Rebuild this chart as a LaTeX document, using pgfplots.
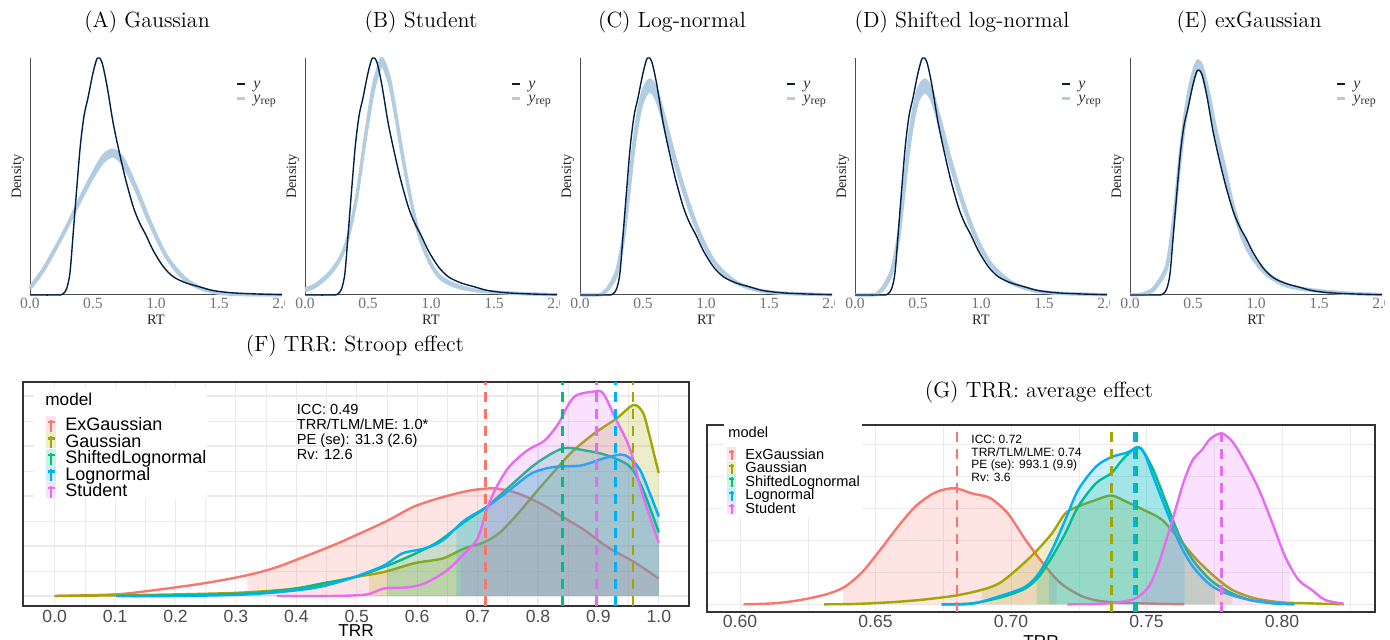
\documentclass[border=0pt]{standalone}
\usepackage{pgfplots}
\pgfplotsset{compat=1.18}
\usepackage{pgfplotstable}
\usepgfplotslibrary{fillbetween}
\usepackage{fontspec}
\newfontfamily\arial{Liberation Sans}
\newfontfamily\tnr{Liberation Serif}

\definecolor{cExg}{HTML}{F8766D}
\definecolor{cGau}{HTML}{A3A500}
\definecolor{cSln}{HTML}{00BF7D}
\definecolor{cLgn}{HTML}{00B0F6}
\definecolor{cStu}{HTML}{E76BF3}
\definecolor{yobs}{HTML}{011F4B}
\definecolor{yrep}{HTML}{B3CDE0}
\definecolor{gridc}{HTML}{EBEBEB}
\definecolor{framec}{HTML}{333333}
\definecolor{tickc}{HTML}{4D4D4D}

% ---------- posterior predictive checks: observed RT density ----------
\pgfplotstableread{
x y
0.00 0
0.22 0
0.26 0.01
0.29 0.06
0.317 0.22
0.343 0.62
0.37 1.05
0.40 1.50
0.43 1.80
0.46 1.97
0.50 2.22
0.535 2.37
0.57 2.33
0.61 2.10
0.66 1.72
0.71 1.42
0.76 1.15
0.82 0.88
0.87 0.72
0.92 0.60
0.98 0.44
1.06 0.28
1.14 0.18
1.24 0.12
1.35 0.08
1.45 0.045
1.60 0.022
1.80 0.01
2.00 0.003
}\yobs

% replicated densities: lower / upper envelope of the draws
\pgfplotstableread{
x lo hi
0.00 0.06 0.08
0.10 0.23 0.25
0.20 0.45 0.47
0.30 0.69 0.71
0.40 0.945 0.975
0.50 1.18 1.22
0.58 1.33 1.39
0.66 1.39 1.45
0.74 1.30 1.36
0.84 1.05 1.09
0.95 0.715 0.745
1.08 0.38 0.40
1.22 0.16 0.18
1.35 0.065 0.075
1.48 0.02 0.03
1.61 0.005 0.011
1.80 0.001 0.003
2.00 0.000 0.001
}\repA

\pgfplotstableread{
x lo hi
0.00 0.04 0.06
0.09 0.09 0.11
0.20 0.21 0.23
0.28 0.36 0.38
0.34 0.56 0.58
0.41 0.97 0.99
0.476 1.53 1.57
0.54 2.02 2.08
0.594 2.27 2.33
0.62 2.29 2.35
0.674 2.09 2.15
0.727 1.73 1.77
0.78 1.33 1.37
0.845 0.91 0.93
0.91 0.57 0.59
0.99 0.32 0.34
1.07 0.17 0.19
1.18 0.09 0.11
1.33 0.045 0.055
1.52 0.024 0.03
1.78 0.008 0.012
2.00 0.003 0.005
}\repB

\pgfplotstableread{
x lo hi
0.00 0.000 0.000
0.15 0.000 0.003
0.172 0.006 0.012
0.225 0.06 0.08
0.29 0.20 0.24
0.343 0.53 0.58
0.383 0.95 1.01
0.423 1.41 1.49
0.462 1.74 1.83
0.502 1.95 2.05
0.555 2.04 2.15
0.608 1.95 2.05
0.674 1.68 1.76
0.753 1.32 1.38
0.832 0.99 1.04
0.91 0.71 0.75
0.99 0.48 0.51
1.07 0.31 0.33
1.176 0.17 0.19
1.28 0.095 0.105
1.44 0.036 0.044
1.65 0.012 0.018
2.00 0.002 0.004
}\repC

\pgfplotstableread{
x lo hi
0.00 0.000 0.000
0.15 0.000 0.004
0.172 0.007 0.014
0.225 0.06 0.085
0.29 0.21 0.25
0.343 0.53 0.59
0.383 0.95 1.02
0.423 1.41 1.50
0.462 1.74 1.84
0.502 1.95 2.06
0.555 2.03 2.15
0.608 1.95 2.05
0.674 1.68 1.76
0.753 1.32 1.38
0.832 0.99 1.04
0.91 0.71 0.75
0.99 0.48 0.51
1.07 0.31 0.33
1.176 0.17 0.19
1.28 0.095 0.105
1.44 0.036 0.044
1.65 0.012 0.018
2.00 0.002 0.004
}\repD

\pgfplotstableread{
x lo hi
0.00 0.000 0.000
0.098 0.005 0.012
0.177 0.04 0.06
0.244 0.15 0.18
0.297 0.31 0.35
0.35 0.79 0.86
0.39 1.31 1.39
0.43 1.76 1.85
0.469 2.08 2.17
0.509 2.29 2.38
0.54 2.39 2.47
0.575 2.32 2.40
0.628 2.04 2.11
0.68 1.70 1.76
0.747 1.32 1.38
0.813 0.94 0.98
0.893 0.59 0.63
0.97 0.39 0.41
1.078 0.22 0.24
1.21 0.11 0.13
1.343 0.065 0.075
1.555 0.03 0.04
1.77 0.012 0.018
2.00 0.004 0.006
}\repE

% ---------- TRR posterior densities: Stroop effect ----------
\pgfplotstableread{
x y
0.000 0.00
0.102 0.033
0.154 0.10
0.205 0.18
0.250 0.26
0.309 0.39
0.361 0.55
0.412 0.78
0.464 1.03
0.516 1.31
0.553 1.52
0.597 1.80
0.649 2.00
0.693 2.12
0.730 2.15
0.767 2.05
0.804 1.85
0.841 1.58
0.878 1.31
0.915 0.98
0.959 0.68
1.000 0.35
}\fExg

\pgfplotstableread{
x y
0.000 0.00
0.100 0.013
0.205 0.033
0.294 0.06
0.353 0.10
0.398 0.15
0.442 0.23
0.494 0.37
0.545 0.48
0.597 0.66
0.642 0.75
0.678 0.95
0.712 1.08
0.738 1.28
0.767 1.65
0.797 2.08
0.826 2.48
0.856 2.88
0.893 3.25
0.930 3.55
0.958 3.82
0.974 3.66
0.985 3.19
0.993 2.79
1.000 2.46
}\fGau

\pgfplotstableread{
x y
0.102 0.00
0.205 0.013
0.316 0.05
0.390 0.13
0.442 0.25
0.494 0.37
0.545 0.58
0.590 0.81
0.634 1.08
0.678 1.48
0.715 1.78
0.752 2.18
0.797 2.65
0.841 2.95
0.878 2.91
0.915 2.81
0.952 2.59
0.974 2.12
1.000 1.27
}\fSln

\pgfplotstableread{
x y
0.102 0.00
0.205 0.00
0.316 0.03
0.390 0.10
0.442 0.19
0.494 0.37
0.545 0.61
0.575 0.85
0.612 0.95
0.642 1.11
0.678 1.51
0.715 1.78
0.752 2.11
0.789 2.45
0.826 2.58
0.871 2.61
0.908 2.75
0.937 2.83
0.952 2.76
0.969 2.52
0.985 2.06
1.000 1.59
}\fLgn

\pgfplotstableread{
x y
0.368 0.00
0.457 0.00
0.516 0.03
0.545 0.15
0.582 0.17
0.612 0.25
0.649 0.51
0.678 0.85
0.700 1.15
0.715 1.72
0.730 2.15
0.752 2.58
0.782 2.91
0.811 3.11
0.834 3.45
0.848 3.78
0.863 4.01
0.893 4.09
0.908 4.05
0.930 3.51
0.952 2.95
0.974 1.99
1.000 1.06
}\fStu

% ---------- TRR posterior densities: average effect ----------
\pgfplotstableread{
x y
0.6013 0
0.6127 0.16
0.6224 0.68
0.6322 1.61
0.6387 2.76
0.6452 5.1
0.6517 8.5
0.6582 12.1
0.6647 15.3
0.6712 17.3
0.676 18.0
0.680 18.1
0.6858 17.3
0.6923 16.6
0.6988 14.2
0.7053 10.1
0.7118 6.4
0.7183 3.3
0.7265 1.2
0.7346 0.42
0.7476 0.16
0.7639 0
}\gExg

\pgfplotstableread{
x y
0.631 0
0.642 0.05
0.655 0.31
0.6663 0.68
0.6793 1.35
0.689 2.24
0.6956 3.28
0.702 5.4
0.7086 8.0
0.7151 11.1
0.720 14.2
0.7248 15.3
0.7313 16.3
0.737 17.0
0.7427 16.0
0.7492 14.7
0.7557 13.2
0.7622 10.1
0.7687 6.9
0.7752 4.3
0.7817 2.24
0.7899 0.94
0.7996 0.31
0.8094 0.16
0.8227 0
}\gGau

\pgfplotstableread{
x y
0.6744 0
0.6858 0.16
0.6972 1.2
0.7053 2.5
0.7102 4.3
0.7151 7.4
0.720 11.1
0.7248 15.3
0.7313 18.9
0.737 20.5
0.7411 22.6
0.746 24.5
0.7484 24.1
0.7525 21.0
0.7573 15.8
0.7622 10.6
0.7671 6.9
0.7736 3.8
0.7801 2.0
0.7882 0.68
0.7964 0.16
0.8045 0
}\gSln

\pgfplotstableread{
x y
0.6744 0
0.6858 0.10
0.6972 1.46
0.7053 2.76
0.7102 4.8
0.7151 8.5
0.720 13.2
0.7248 17.9
0.7313 21.5
0.737 23.0
0.7427 23.7
0.7468 24.5
0.7492 23.6
0.7525 19.9
0.7573 14.7
0.7622 9.5
0.7671 5.9
0.7736 3.0
0.7801 1.61
0.7882 0.68
0.7964 0.26
0.8045 0
}\gLgn

\pgfplotstableread{
x y
0.7208 0
0.7313 0.05
0.7395 0.31
0.746 0.94
0.7508 2.76
0.7541 5.9
0.7573 10.1
0.7606 14.7
0.7639 19.4
0.7671 22.6
0.7704 24.1
0.7736 25.9
0.7777 26.7
0.7817 25.4
0.7866 22.0
0.7915 17.9
0.7964 12.7
0.8012 7.4
0.8061 3.8
0.811 2.24
0.8159 0.68
0.8227 0.1
}\gStu

\pgfplotsset{
  every fill between plot/.style={},
  ppc/.style={
    scale only axis, width=126pt, height=118.5pt,
    xmin=0, xmax=2, ymin=0,
    axis x line*=bottom, axis y line*=left,
    axis line style={-, draw=black!70, line width=0.5pt},
    xtick={0,0.5,1,1.5,2}, xticklabels={0.0,0.5,1.0,1.5,2.0},
    ytick=\empty, major tick length=0pt,
    xticklabel style={font=\tnr\fontsize{7.8}{9}\selectfont, text=black!55, inner sep=1.5pt},
    xlabel={RT}, ylabel={Density},
    label style={font=\tnr\fontsize{7.2}{8.5}\selectfont, text=black!85},
    xlabel style={at={(axis description cs:0.5,-0.1055)}, anchor=center},
    ylabel style={at={(axis description cs:-0.0476,0.5)}, anchor=center},
    clip=false,
  },
  trr/.style={
    scale only axis, grid=both,
    major grid style={draw=gridc, line width=0.55pt},
    minor grid style={draw=gridc, line width=0.3pt},
    major tick length=0pt, minor tick length=0pt,
    yticklabels={},
    axis line style={draw=framec, line width=0.55pt},
    xticklabel style={font=\arial\fontsize{8.8}{10}\selectfont, text=tickc},
    xlabel={TRR},
    xlabel style={font=\arial\fontsize{8.6}{10}\selectfont, anchor=center, text=black},
  },
  dens/.style={line width=1.2pt, smooth},
  mean/.style={line width=1.35pt, dash pattern=on 5pt off 3.5pt},
}

% legend of the predictive-check panels
\newcommand\ppclegend{%
  \draw[yobs, line width=1.1pt] (axis description cs:0.823,0.889) -- (axis description cs:0.855,0.889);
  \draw[yrep, line width=1.1pt] (axis description cs:0.823,0.829) -- (axis description cs:0.855,0.829);
  \node[anchor=base west, inner sep=0, text=black!80, font=\tnr\fontsize{8}{9}\selectfont]
    at (axis description cs:0.885,0.873) {\itshape y};
  \node[anchor=base west, inner sep=0, text=black!80, font=\tnr\fontsize{8}{9}\selectfont]
    at (axis description cs:0.885,0.813) {{\itshape y}\textsubscript{rep}};
}

% one predictive-check panel: #1 left edge, #2 top of density axis, #3 replicated draws
\newcommand\ppcpanel[3]{%
  \begin{scope}
    \clip ({#1-14pt},150pt) rectangle ({#1+127pt},320pt);
    \begin{axis}[ppc, ymax=#2, at={(#1,172.5pt)}]
      \addplot[name path=lo, draw=yrep, line width=1.5pt, smooth] table[x=x,y=lo] {#3};
      \addplot[name path=hi, draw=yrep, line width=1.5pt, smooth] table[x=x,y=hi] {#3};
      \addplot[fill=yrep, draw=none] fill between[of=lo and hi];
      \addplot[yobs, line width=0.7pt, smooth] table[x=x,y=y] {\yobs};
      \ppclegend
    \end{axis}
  \end{scope}}

% one TRR density: #1 table, #2 colour, #3 shaded interval, #4 path name, #5 baseline name
\newcommand\trrdens[5]{%
  \addplot[draw=none, name path=#4, smooth] table[x=x,y=y] {#1};
  \addplot[fill=#2, fill opacity=0.2, draw=none] fill between[of=#4 and #5, soft clip={domain=#3}];
  \addplot[dens, #2] table[x=x,y=y] {#1};
}

\begin{document}
\begin{tikzpicture}
\useasboundingbox (0,0) rectangle (695pt,320pt);

\ppcpanel{15pt}{2.37}{\repA}
\ppcpanel{152.5pt}{2.37}{\repB}
\ppcpanel{290pt}{2.37}{\repC}
\ppcpanel{427.5pt}{2.37}{\repD}
\ppcpanel{565pt}{2.50}{\repE}

% (F) Stroop effect
\begin{axis}[trr, width=333pt, height=112pt, at={(11.5pt,17pt)},
  xmin=-0.0525, xmax=1.05, ymin=-0.2, ymax=4.28,
  xtick={0,0.1,0.2,0.3,0.4,0.5,0.6,0.7,0.8,0.9,1.0},
  xticklabels={0.0,0.1,0.2,0.3,0.4,0.5,0.6,0.7,0.8,0.9,1.0},
  minor xtick={0.05,0.15,0.25,0.35,0.45,0.55,0.65,0.75,0.85,0.95},
  ytick={0,1,2,3,4}, minor ytick={0.5,1.5,2.5,3.5},
  xticklabel style={inner sep=2pt},
  xlabel style={at={(axis description cs:0.5,-0.1116)}},
]
  \addplot[draw=none, name path=baseF] coordinates {(-0.1,0) (1.1,0)};
  \trrdens{\fExg}{cExg}{0.319:1}{pfE}{baseF}
  \trrdens{\fGau}{cGau}{0.52:1}{pfG}{baseF}
  \trrdens{\fSln}{cSln}{0.55:1}{pfS}{baseF}
  \trrdens{\fLgn}{cLgn}{0.665:1}{pfL}{baseF}
  \trrdens{\fStu}{cStu}{0.672:1}{pfT}{baseF}
  \addplot[mean, cExg] coordinates {(0.713,-0.2) (0.713,4.28)};
  \addplot[mean, cGau] coordinates {(0.9575,-0.2) (0.9575,4.28)};
  \addplot[mean, cSln] coordinates {(0.841,-0.2) (0.841,4.28)};
  \addplot[mean, cLgn] coordinates {(0.928,-0.2) (0.928,4.28)};
  \addplot[mean, cStu] coordinates {(0.8965,-0.2) (0.8965,4.28)};
\end{axis}

% (G) average effect
\begin{axis}[trr, width=334pt, height=93.5pt, at={(353.5pt,14pt)},
  xmin=0.5878, xmax=0.8343, ymin=-1.2, ymax=28.02,
  xtick={0.60,0.65,0.70,0.75,0.80},
  xticklabels={0.60,0.65,0.70,0.75,0.80},
  minor xtick={0.625,0.675,0.725,0.775,0.825},
  ytick={0,10,20}, minor ytick={5,15,25},
  xticklabel style={inner sep=1.6pt},
  xlabel style={at={(axis description cs:0.5,-0.16)}},
]
  \addplot[draw=none, name path=baseG] coordinates {(0.55,0) (0.85,0)};
  \trrdens{\gExg}{cExg}{0.638:0.7168}{pgE}{baseG}
  \trrdens{\gGau}{cGau}{0.689:0.7817}{pgG}{baseG}
  \trrdens{\gSln}{cSln}{0.7094:0.775}{pgS}{baseG}
  \trrdens{\gLgn}{cLgn}{0.714:0.764}{pgL}{baseG}
  \trrdens{\gStu}{cStu}{0.748:0.8029}{pgT}{baseG}
  \addplot[mean, cExg] coordinates {(0.6801,-1.2) (0.6801,28.02)};
  \addplot[mean, cGau] coordinates {(0.737,-1.2) (0.737,28.02)};
  \addplot[mean, cSln] coordinates {(0.7465,-1.2) (0.7465,28.02)};
  \addplot[mean, cLgn] coordinates {(0.7455,-1.2) (0.7455,28.02)};
  \addplot[mean, cStu] coordinates {(0.7777,-1.2) (0.7777,28.02)};
\end{axis}

% titles, legends and annotations (pixel-like units, y downwards)
\begin{scope}[x=0.5pt, y=-0.5pt, yshift=320pt]
  \foreach \cx/\t in {147/{(A) Gaussian}, 421/{(B) Student}, 672/{(C) Log-normal},
                      962/{(D) Shifted log-normal}, 1249/{(E) exGaussian}}
    \node[anchor=base, inner sep=0, font=\fontsize{11}{13}\selectfont] at (\cx,27.8) {\t};
  \node[anchor=base, inner sep=0, font=\fontsize{11}{13}\selectfont] at (355,352) {(F) TRR: Stroop effect};
  \node[anchor=base, inner sep=0, font=\fontsize{11}{13}\selectfont] at (1039,397.5) {(G) TRR: average effect};

  % legend of (F)
  \fill[white] (34,388) rectangle (207,498);
  \node[anchor=base west, inner sep=0, font=\arial\fontsize{8.6}{10}\selectfont] at (45,406) {model};
  \foreach \c/\n [count=\i from 0] in {cExg/ExGaussian, cGau/Gaussian, cSln/ShiftedLognormal, cLgn/Lognormal, cStu/Student}{
    \pgfmathsetmacro\b{431+16.5*\i}
    \fill[\c, opacity=0.2] (46,\b-15) rectangle (56,\b+1);
    \draw[\c, line width=1.1pt] (51,\b-11) -- (51,\b+1);
    \draw[\c, line width=1.1pt] (47.5,\b-9) -- (54.5,\b-9);
    \node[anchor=base west, inner sep=0, font=\arial\fontsize{9}{10}\selectfont] at (65,\b) {\n};
  }
  \foreach \t [count=\i from 0] in {ICC: 0.49, TRR/TLM/LME: 1.0*, PE (se): 31.3 (2.6), Rv: 12.6}{
    \pgfmathsetmacro\b{414.3+15*\i}
    \node[anchor=base west, inner sep=0, font=\arial\fontsize{7.3}{9}\selectfont] at (296.5,\b) {\t};
  }

  % legend of (G)
  \fill[white] (724,423) rectangle (862,517);
  \node[anchor=base west, inner sep=0, font=\arial\fontsize{7.3}{9}\selectfont] at (728,438) {model};
  \foreach \c/\n [count=\i from 0] in {cExg/ExGaussian, cGau/Gaussian, cSln/ShiftedLognormal, cLgn/Lognormal, cStu/Student}{
    \pgfmathsetmacro\b{459.3+13.5*\i}
    \fill[\c, opacity=0.2] (727,\b-12) rectangle (736,\b+1);
    \draw[\c, line width=1pt] (731.5,\b-9) -- (731.5,\b+1);
    \draw[\c, line width=1pt] (729,\b-7) -- (734,\b-7);
    \node[anchor=base west, inner sep=0, font=\arial\fontsize{7.3}{9}\selectfont] at (745,\b) {\n};
  }
  \foreach \t [count=\i from 0] in {ICC: 0.72, TRR/TLM/LME: 0.74, PE (se): 993.1 (9.9), Rv: 3.6}{
    \pgfmathsetmacro\b{443.3+12.8*\i}
    \node[anchor=base west, inner sep=0, font=\arial\fontsize{6}{7}\selectfont] at (971,\b) {\t};
  }
\end{scope}
\end{tikzpicture}
\end{document}
